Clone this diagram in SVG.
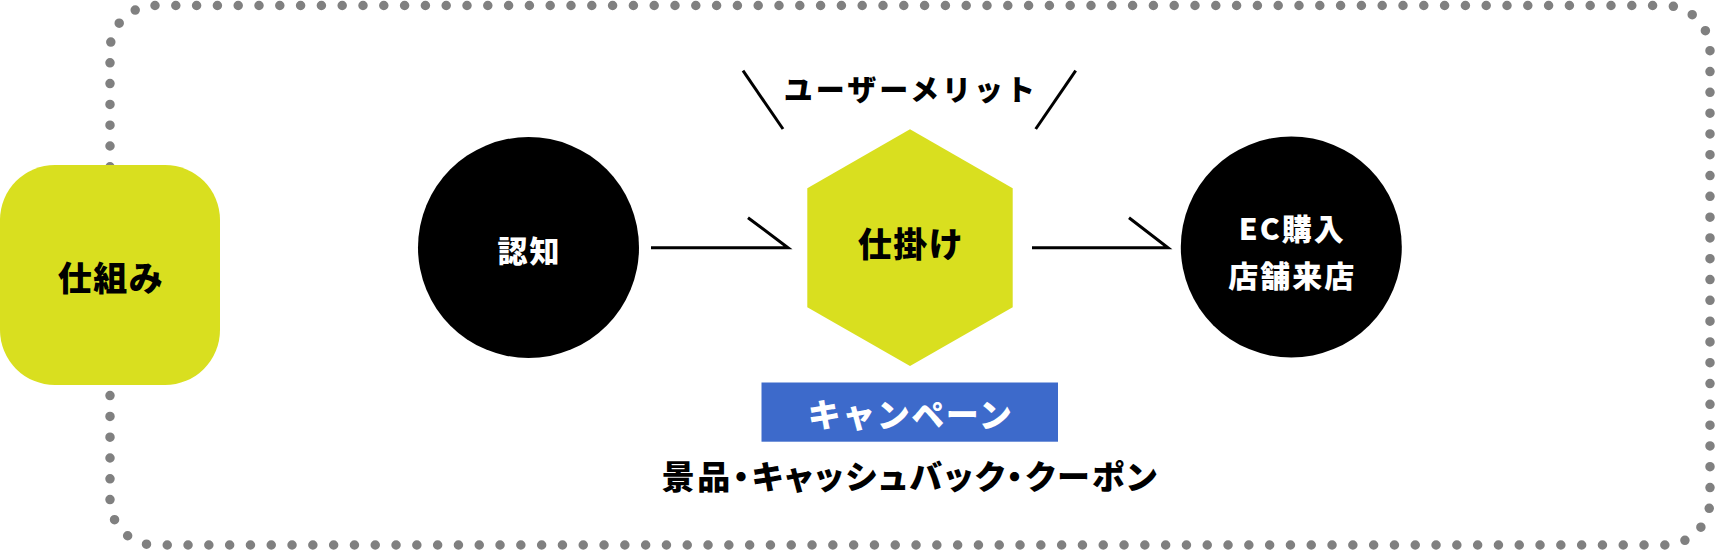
<svg xmlns="http://www.w3.org/2000/svg" width="1715" height="551" viewBox="0 0 1715 551">
<style>
.jp{font-family:"Noto Sans CJK JP","Noto Sans CJK SC",sans-serif;font-weight:900;text-anchor:middle;dominant-baseline:central}
.w{fill:#fff}
.k{fill:#000}
.ln{stroke:#000;stroke-width:3;fill:none;stroke-linecap:butt}
.palt{font-feature-settings:"palt"}
</style>
<g id="frame">
<rect x="110" y="5.5" width="1600" height="539.5" rx="45" ry="45" fill="none" stroke="#808080" stroke-width="9.5" stroke-linecap="round" stroke-dasharray="0 20.8"/>
</g>
<g id="node-shikumi">
<rect x="0" y="165" width="220" height="220" rx="55" ry="55" fill="#d9df1f"/>
<text class="jp k" x="111" y="276" font-size="34" letter-spacing="1.5">仕組み</text>
</g>
<g id="node-ninchi">
<circle cx="528.5" cy="247.5" r="110.5" fill="#000"/>
<text class="jp w" x="529.5" y="249" font-size="30" letter-spacing="2">認知</text>
</g>
<g id="node-shikake">
<polygon points="910,129.3 1012.7,188.3 1012.7,307.3 910,366 807.3,307.3 807.3,188.3" fill="#d9df1f"/>
<text class="jp k" x="911" y="242" font-size="34" letter-spacing="1.5">仕掛け</text>
</g>
<g id="node-ec">
<circle cx="1291.3" cy="247" r="110.5" fill="#000"/>
<text class="jp w" x="1292.3" y="226.5" font-size="30" letter-spacing="2">EC購入</text>
<text class="jp w" x="1292.3" y="273.5" font-size="30" letter-spacing="2">店舗来店</text>
</g>
<g id="label-merit">
<text class="jp k" x="911" y="88" font-size="29" letter-spacing="3">ユーザーメリット</text>
<line class="ln" x1="743" y1="70.7" x2="783" y2="129"/>
<line class="ln" x1="1075.7" y1="70.7" x2="1035.7" y2="129"/>
</g>
<g id="label-campaign">
<rect x="761.5" y="382.5" width="296.5" height="59.2" fill="#3d6acb"/>
<text class="jp w" x="910.5" y="413" font-size="33" letter-spacing="1.5">キャンペーン</text>
</g>
<g id="label-prizes">
<text class="jp k palt" x="910.5" y="475" font-size="33" letter-spacing="2.5">景品・キャッシュバック・クーポン</text>
</g>
<g id="connectors">
<polyline class="ln" points="651,247.7 788,247.7 748,217.7"/>
<polyline class="ln" points="1032,247.7 1168,247.7 1129,217.7"/>
</g>
</svg>
